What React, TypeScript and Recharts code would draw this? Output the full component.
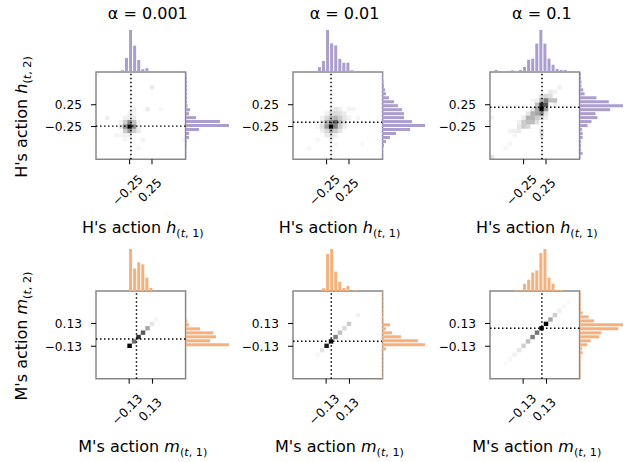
import React from 'react'
import { ScatterChart, Scatter, XAxis, YAxis, ReferenceArea, ReferenceLine, BarChart, Bar } from 'recharts'

const FONT = '"DejaVu Sans", sans-serif'
const SPINE = '#888888'
const PURPLE = '#ab9dcf'
const ORANGE = '#f6b07c'

const titles = ['α = 0.001', 'α = 0.01', 'α = 0.1']

// marginal histograms, 22 bins across the axis range (left -> right / bottom -> top)
const hTopHist = [
  [0, 0, 0, 0.7, 0, 0, 1.7, 13.7, 41, 25.7, 11.7, 2.7, 3.7, 0.7, 0, 0, 0, 0, 0, 0, 0, 0],
  [0, 1, 0, 0, 0, 1, 4.7, 10.7, 40.7, 27.7, 25.7, 12.7, 9, 9, 1.7, 1, 1, 0, 1, 0, 0, 0],
  [0, 2, 0, 0, 0, 1.7, 0.7, 2, 5, 12, 13, 27.7, 41, 27.7, 13, 7, 3, 2, 2, 0, 0, 0],
]
const hRightHist = [
  [0.3, 0.3, 0.3, 0.5, 0.8, 3, 3, 13, 43, 34, 10, 3, 4, 1.5, 1, 1, 1, 1, 1, 1, 1, 0.5],
  [0.5, 0.5, 1, 2, 4, 8, 14, 28, 43, 30, 22, 22, 20, 16, 12, 7, 4, 3, 2, 1.5, 1, 0.5],
  [0.5, 2.7, 1, 1, 1, 2.7, 2.7, 2, 7.7, 11.7, 17.7, 15.7, 30.7, 43.7, 29.3, 16.7, 4.7, 3.3, 1.5, 1.5, 1, 1],
]
const mTopHist = [
  [0, 0, 0, 0, 0, 0, 0, 0, 41, 22, 28, 26, 13, 3, 0, 0, 0, 0, 0, 0, 0, 0],
  [0, 0, 0, 0, 0, 0, 0, 2.7, 36, 41, 19, 9, 3, 5, 0, 1, 0, 0, 0, 0, 0, 0],
  [0, 0, 0, 0, 0, 0, 1, 0.7, 7, 11, 18, 20, 37, 41, 13, 7, 1, 1, 0, 0, 0, 0],
]
const mRightHist = [
  [0, 0, 0, 0, 0, 0, 0, 0, 43, 24, 30, 27.3, 14, 3, 1.3, 0, 0, 0, 0, 0, 0, 0],
  [0.6, 0.6, 0.6, 0.6, 0.6, 0.6, 0.6, 4, 43, 36, 19, 10, 4, 8, 0.6, 1, 0.6, 0.6, 0.6, 0.6, 0.6, 0.6],
  [0.7, 0.7, 0.7, 0.7, 0.7, 0.7, 2.7, 2, 7.3, 10.7, 19.3, 21.3, 38.3, 43, 14, 8.7, 2.7, 1, 1, 0.7, 0.7, 0.7],
]

// joint histograms on a 20 x 20 grid: [column, row, density 0..1]
const hCells = [
  [[7, 7, 1], [6, 7, 0.45], [8, 7, 0.45], [7, 8, 0.45], [7, 6, 0.4], [6, 8, 0.2], [8, 8, 0.25], [6, 6, 0.2], [8, 6, 0.2],
    [7, 9, 0.08], [8, 9, 0.08], [6, 9, 0.06], [7, 10, 0.06], [8, 10, 0.05], [5, 7, 0.08], [5, 8, 0.05], [9, 7, 0.06], [9, 8, 0.05],
    [7, 5, 0.06], [6, 5, 0.05], [8, 11, 0.06], [11, 11, 0.08], [12, 16, 0.08], [14, 11, 0.04], [2, 9, 0.06], [9, 6, 0.08],
    [10, 4, 0.05], [4, 5, 0.04], [5, 5, 0.04], [9, 2, 0.03], [19, 4, 0.03], [0, 19, 0.03], [6, 4, 0.04]],
  [[8, 7, 1], [9, 8, 0.6], [8, 8, 0.45], [9, 7, 0.5], [7, 7, 0.4], [7, 8, 0.3], [8, 6, 0.3], [9, 6, 0.2], [7, 6, 0.15],
    [10, 8, 0.25], [10, 9, 0.2], [9, 9, 0.3], [8, 9, 0.25], [7, 9, 0.15], [9, 10, 0.15], [10, 10, 0.12], [8, 10, 0.12],
    [11, 9, 0.1], [11, 10, 0.08], [10, 11, 0.06], [9, 11, 0.1], [8, 11, 0.06], [11, 8, 0.12], [12, 9, 0.05], [12, 11, 0.05],
    [6, 7, 0.12], [6, 8, 0.1], [6, 6, 0.06], [7, 5, 0.08], [8, 5, 0.1], [9, 5, 0.06], [6, 9, 0.05], [7, 10, 0.05],
    [10, 7, 0.2], [10, 6, 0.1], [11, 7, 0.08], [5, 7, 0.04], [8, 4, 0.04], [14, 9, 0.04], [13, 11, 0.04], [5, 4, 0.03],
    [15, 3, 0.03], [3, 2, 0.03], [9, 3, 0.03]],
  [[11, 11, 1], [11, 12, 0.85], [12, 12, 0.65], [12, 13, 0.5], [10, 12, 0.25], [11, 13, 0.3], [13, 13, 0.25], [12, 14, 0.15],
    [11, 14, 0.12], [13, 14, 0.12], [14, 13, 0.25], [13, 15, 0.08], [14, 15, 0.05], [15, 16, 0.06], [12, 11, 0.4], [10, 11, 0.35],
    [11, 10, 0.45], [10, 10, 0.35], [9, 10, 0.3], [9, 9, 0.3], [8, 9, 0.3], [8, 8, 0.25], [9, 8, 0.25], [10, 9, 0.2], [7, 8, 0.2],
    [7, 7, 0.2], [8, 7, 0.15], [6, 7, 0.1], [6, 6, 0.08], [5, 6, 0.06], [4, 6, 0.05], [5, 5, 0.04], [10, 8, 0.12], [11, 9, 0.15],
    [12, 10, 0.1], [9, 11, 0.1], [8, 10, 0.1], [7, 9, 0.08], [11, 6, 0.12], [11, 5, 0.1], [12, 9, 0.06], [6, 8, 0.06],
    [4, 3, 0.04], [3, 2, 0.03], [0, 0, 0.1], [0, 9, 0.05], [14, 12, 0.06], [9, 13, 0.04], [10, 13, 0.06]],
]
const mCells = [
  [[7, 7, 1], [8, 8, 0.55], [9, 9, 0.8], [10, 10, 0.65], [11, 11, 0.35], [12, 12, 0.1], [13, 13, 0.04]],
  [[5, 5, 0.03], [6, 6, 0.1], [7, 7, 0.9], [8, 8, 1], [9, 9, 0.5], [10, 10, 0.25], [11, 11, 0.15], [12, 12, 0.2], [14, 14, 0.05]],
  [[3, 3, 0.02], [4, 4, 0.03], [5, 5, 0.05], [6, 6, 0.1], [7, 7, 0.18], [8, 8, 0.25], [9, 9, 0.5], [10, 10, 0.55], [11, 11, 1],
    [12, 12, 1], [13, 13, 0.35], [14, 14, 0.2], [15, 15, 0.06], [16, 16, 0.03], [17, 17, 0.02]],
]

// dotted reference lines (mean action)
const hMeans = [[-0.22, -0.24], [-0.15, -0.15], [0.16, 0.19]]
const mMeans = [[-0.048, -0.047], [-0.073, -0.074], [0.079, 0.075]]

const hTicks = [-0.25, 0.25]
const mTicks = [-0.13, 0.13]

const colLeft = [96, 292.7, 490]
const BOX_W = 89.6
const rows = [
  { top: 71.8, h: 87.3, range: 1, ticks: hTicks, cells: hCells, means: hMeans, topHist: hTopHist, rightHist: hRightHist, color: PURPLE },
  { top: 291, h: 87.7, range: 0.5, ticks: mTicks, cells: mCells, means: mMeans, topHist: mTopHist, rightHist: mRightHist, color: ORANGE },
]
const HIST_H = 45
const HIST_W = 46
const LABEL_SIZE = 16

const fmt = (v: number) => (v < 0 ? '\u2212' : '') + Math.abs(v).toFixed(2)

const XTick = (props: any) => {
  const { x, y, payload } = props
  const cx = x - 2
  const cy = y + 26
  return (
    <text x={cx} y={cy} transform={`rotate(-45 ${cx} ${cy})`} textAnchor="middle" dominantBaseline="central"
      fontSize={12.2} fontFamily={FONT} fill="#000">
      {fmt(payload.value)}
    </text>
  )
}

const Panel = ({ row, col }: { row: (typeof rows)[number]; col: number }) => {
  const R = row.range
  const bw = (2 * R) / 20
  const cells = row.cells[col]
  const pts = cells.map((c) => ({ x: -R + (c[0] + 0.5) * bw, y: -R + (c[1] + 0.5) * bw }))
  const left = colLeft[col]
  const top = row.top
  const topData = row.topHist[col].map((v, i) => ({ b: i, v }))
  const rightData = row.rightHist[col].map((v, i) => ({ b: i, v })).reverse()
  const topMax = Math.max(...row.topHist[col]) * 1.07
  const rightMax = Math.max(...row.rightHist[col]) * 1.07
  const mean = row.means[col]

  return (
    <>
      <div style={{ position: 'absolute', left: left - 60, top: top - 2 }}>
        <ScatterChart width={60 + BOX_W + 3} height={row.h + 52} margin={{ top: 2, right: 3, bottom: 0, left: 0 }}>
          <XAxis type="number" dataKey="x" domain={[-R, R]} ticks={row.ticks} interval={0} allowDataOverflow
            tick={<XTick />} tickLine={{ stroke: '#000' }} tickSize={5} tickMargin={0} axisLine={false} height={50} />
          <YAxis type="number" dataKey="y" domain={[-R, R]} ticks={row.ticks} interval={0} allowDataOverflow
            tick={{ fontSize: 12.2, fill: '#000', fontFamily: FONT }} tickFormatter={fmt}
            tickLine={{ stroke: '#000' }} tickSize={5} tickMargin={9} axisLine={false} width={60} />
          {cells.map((c, i) => (
            <ReferenceArea key={i} x1={-R + c[0] * bw} x2={-R + (c[0] + 1) * bw} y1={-R + c[1] * bw} y2={-R + (c[1] + 1) * bw}
              fill="#000" fillOpacity={c[2]} stroke="none" />
          ))}
          <ReferenceArea x1={-R} x2={R} y1={-R} y2={R} fill="none" stroke={SPINE} strokeWidth={1.5} fillOpacity={0} />
          <ReferenceLine x={mean[0]} stroke="#000" strokeDasharray="1.5 2.5" strokeWidth={1.5} />
          <ReferenceLine y={mean[1]} stroke="#000" strokeDasharray="1.5 2.5" strokeWidth={1.5} />
          <Scatter data={pts} fill="none" stroke="none" isAnimationActive={false} />
        </ScatterChart>
      </div>
      <div style={{ position: 'absolute', left: left - 2, top: top - HIST_H }}>
        <BarChart width={BOX_W + 4} height={HIST_H + 2} data={topData} margin={{ top: 0, right: 2, bottom: 2, left: 2 }}
          barCategoryGap="12%">
          <XAxis dataKey="b" hide />
          <YAxis type="number" domain={[0, topMax]} width={0} tick={false} tickLine={false}
            axisLine={{ stroke: SPINE, strokeWidth: 1.5 }} />
          <Bar dataKey="v" fill={row.color} isAnimationActive={false} />
        </BarChart>
      </div>
      <div style={{ position: 'absolute', left: left + BOX_W - 2, top: top - 2 }}>
        <BarChart layout="vertical" width={HIST_W + 4} height={row.h + 4} data={rightData}
          margin={{ top: 2, right: 2, bottom: 2, left: 2 }} barCategoryGap="12%">
          <XAxis type="number" domain={[0, rightMax]} height={0} tick={false} tickLine={false}
            axisLine={{ stroke: SPINE, strokeWidth: 1.5 }} />
          <YAxis type="category" dataKey="b" hide />
          <Bar dataKey="v" fill={row.color} isAnimationActive={false} />
        </BarChart>
      </div>
    </>
  )
}

const Sub = ({ v, n }: { v: string; n: number }) => (
  <>
    <tspan fontStyle="italic">{v}</tspan>
    <tspan fontSize={LABEL_SIZE * 0.7} dy={3.8}>(<tspan fontStyle="italic">t</tspan>, {n})</tspan>
  </>
)

export default function App() {
  const mid = (l: number) => l + BOX_W / 2
  return (
    <div style={{ position: 'absolute', left: 0, top: 0, width: 632, height: 462, background: '#fff', fontFamily: FONT }}>
      {rows.map((row, r) => [0, 1, 2].map((c) => <Panel key={`${r}-${c}`} row={row} col={c} />))}
      <svg width={632} height={462} style={{ position: 'absolute', left: 0, top: 0, pointerEvents: 'none' }}
        fontFamily={FONT} fill="#000">
        {titles.map((t, i) => (
          <text key={t} x={mid(colLeft[i]) + 7} y={19} textAnchor="middle" fontSize={LABEL_SIZE}>{t}</text>
        ))}
        {colLeft.map((l, i) => (
          <text key={'h' + i} x={mid(l) + 2} y={233} textAnchor="middle" fontSize={LABEL_SIZE}>
            H's action <Sub v="h" n={1} />
          </text>
        ))}
        {colLeft.map((l, i) => (
          <text key={'m' + i} x={mid(l) + 2} y={452} textAnchor="middle" fontSize={LABEL_SIZE}>
            M's action <Sub v="m" n={1} />
          </text>
        ))}
        <text x={27} y={117} transform="rotate(-90 27 117)" textAnchor="middle" fontSize={LABEL_SIZE}>
          H's action <Sub v="h" n={2} />
        </text>
        <text x={27} y={336} transform="rotate(-90 27 336)" textAnchor="middle" fontSize={LABEL_SIZE}>
          M's action <Sub v="m" n={2} />
        </text>
      </svg>
    </div>
  )
}
